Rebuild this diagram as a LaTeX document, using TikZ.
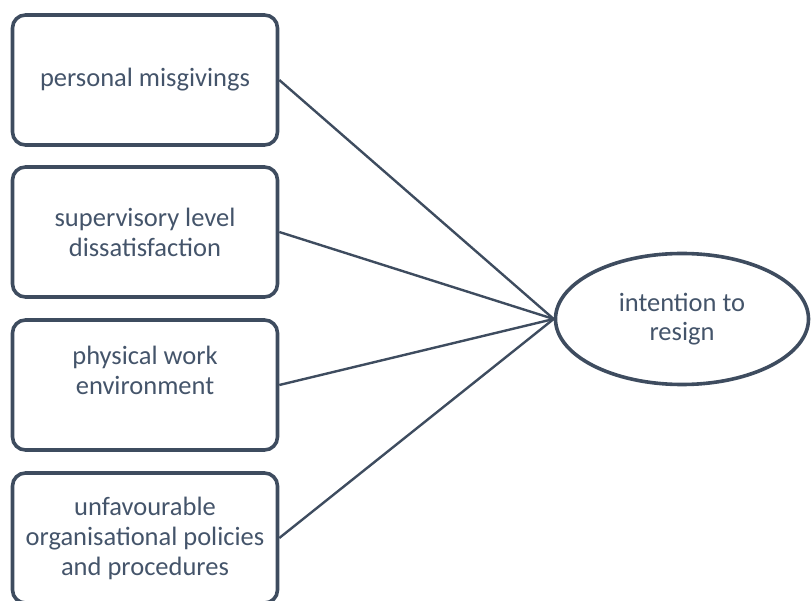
\documentclass[tikz,border=0pt]{standalone}
\usepackage{fontspec}
\setmainfont{Carlito}
\usepackage{xcolor}
\usepackage{tikz}
\usetikzlibrary{shapes.geometric}

\definecolor{slate}{HTML}{3E4C5F}
\definecolor{slatetext}{HTML}{44546A}

\begin{document}
\begin{tikzpicture}[x=1pt, y=-1pt,
  box/.style={draw=slate, line width=3.6pt, rounded corners=13pt, minimum width=265pt,
              minimum height=130pt, inner sep=0pt, align=center, text=slatetext,
              font=\fontsize{26.5}{30}\selectfont},
  goal/.style={ellipse, draw=slate, line width=3.6pt, minimum width=253pt,
               minimum height=131pt, inner sep=0pt, align=center, text=slatetext,
               font=\fontsize{26.5}{29}\selectfont},
  link/.style={draw=slate, line width=2.4pt}
]
  \useasboundingbox (0,0) rectangle (811,601);

  % Nodes
  \node[box] (misgivings) at (145,80)  {personal misgivings};
  \node[box] (supervisor) at (145,232) {supervisory level\\dissatisfaction};
  \node[box] (physical)   at (145,385) {physical work\\environment\\~};
  \node[box] (policies)   at (145,538) {unfavourable\\organisational policies\\and procedures};
  \node[goal] (resign)    at (682,319) {intention to\\resign};

  % Paths
  \draw[link] (misgivings.east) -- (resign.west);
  \draw[link] (supervisor.east) -- (resign.west);
  \draw[link] (physical.east)   -- (resign.west);
  \draw[link] (policies.east)   -- (resign.west);
\end{tikzpicture}
\end{document}
